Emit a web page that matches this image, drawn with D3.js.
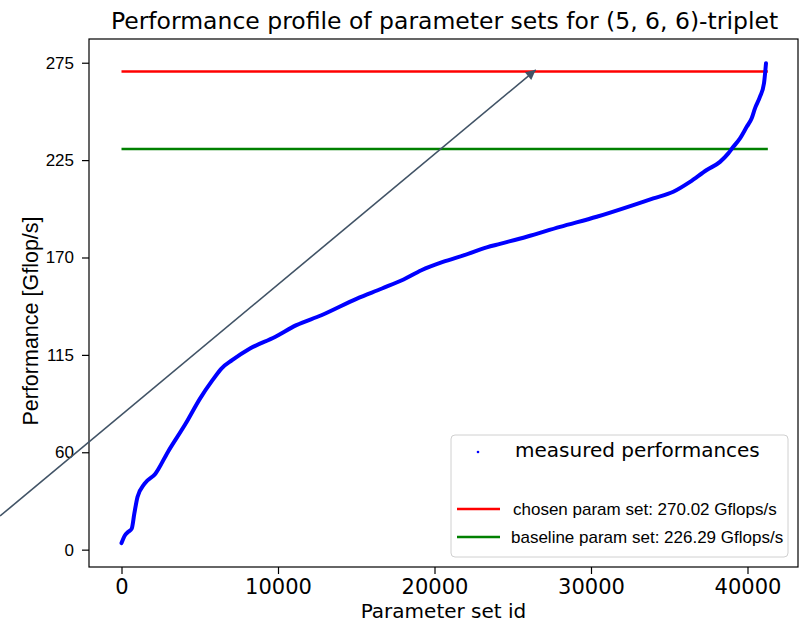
<!DOCTYPE html>
<html>
<head>
<meta charset="utf-8">
<script src="https://cdn.jsdelivr.net/npm/d3@7"></script>
<style>
  body { margin: 0; background: #fff; }
  svg { display: block; }
</style>
</head>
<body>
<div id="chart-container"></div>
<script>
// measured performance profile (sorted parameter sets)
const paramIds = [0, 224, 420, 652, 818, 1022, 1476, 2166, 2965, 4102, 5016, 5815, 6383, 7067, 8211,
  9808, 11176, 12773, 15048, 16645, 18026, 19163, 20537, 21904, 23335, 24185, 25891, 28019,
  30364, 32703, 33981, 35259, 36326, 37393, 38243, 38773, 39093, 39521, 39949, 40268, 40479,
  40799, 41054, 41182];
const perfValues = [3.7, 8.1, 10.0, 11.9, 20.3, 29.7, 37.3, 42.9, 55.2, 71.2, 85.3, 95.7, 102.3, 107.0, 113.6,
  120.1, 126.8, 132.4, 141.8, 147.5, 152.6, 157.8, 162.5, 166.3, 170.7, 172.7, 176.7, 182.3,
  188.0, 194.6, 198.4, 202.1, 207.7, 214.4, 219.0, 223.8, 227.5, 232.3, 238.8, 243.6, 249.2,
  255.8, 263.4, 274.7];

const chosenPerf = 270.02;
const baselinePerf = 226.29;
const refLineIds = [0, 41300];

const xTickValues = [0, 10000, 20000, 30000, 40000];
const yTickValues = [0, 55, 110, 165, 220, 275];
const yTickLabels = ["0", "60", "115", "170", "225", "275"];

// annotation arrow (tail, head) in data units
const arrowFrom = [-7760, 19];
const arrowTo = [26470, 271];

const width = 807, height = 626;
const plot = { left: 89, right: 798, top: 39, bottom: 567 };

const svg = d3.select("#chart-container")
    .append("svg")
    .attr("width", width)
    .attr("height", height);

const x = d3.scaleLinear().domain([-2077, 43227]).range([plot.left, plot.right]);
const y = d3.scaleLinear().domain([-9.8, 288.4]).range([plot.bottom, plot.top]);

// title
svg.append("text")
    .attr("x", (plot.left + plot.right) / 2 + 1)
    .attr("y", 29)
    .attr("text-anchor", "middle")
    .style("font-family", "DejaVu Sans")
    .style("font-size", "23.5px")
    .text("Performance profile of parameter sets for (5, 6, 6)-triplet");

// reference lines
svg.append("line")
    .attr("x1", x(refLineIds[0])).attr("x2", x(refLineIds[1]))
    .attr("y1", y(chosenPerf)).attr("y2", y(chosenPerf))
    .attr("stroke", "#ff0000").attr("stroke-width", 2.6);
svg.append("line")
    .attr("x1", x(refLineIds[0])).attr("x2", x(refLineIds[1]))
    .attr("y1", y(baselinePerf)).attr("y2", y(baselinePerf))
    .attr("stroke", "#008000").attr("stroke-width", 2.6);

// measured curve
const points = paramIds.map((d, i) => [d, perfValues[i]]);
const line = d3.line()
    .x(d => x(d[0]))
    .y(d => y(d[1]))
    .curve(d3.curveMonotoneX);
svg.append("path")
    .datum(points)
    .attr("fill", "none")
    .attr("stroke", "#0000ff")
    .attr("stroke-width", 4)
    .attr("stroke-linejoin", "round")
    .attr("stroke-linecap", "round")
    .attr("d", line);

// frame
svg.append("rect")
    .attr("x", plot.left).attr("y", plot.top)
    .attr("width", plot.right - plot.left)
    .attr("height", plot.bottom - plot.top)
    .attr("fill", "none")
    .attr("stroke", "#000")
    .attr("stroke-width", 1.2);

// x axis
const xAxis = svg.append("g")
    .attr("transform", `translate(0,${plot.bottom})`)
    .call(d3.axisBottom(x).tickValues(xTickValues).tickFormat(d3.format("d")).tickSize(7).tickPadding(5));
xAxis.select(".domain").remove();
xAxis.selectAll("line").attr("stroke-width", 1.2);
xAxis.selectAll("text")
    .style("font-family", "DejaVu Sans")
    .style("font-size", "21px")
    .attr("fill", "#000");

// y axis
const yAxis = svg.append("g")
    .attr("transform", `translate(${plot.left},0)`)
    .call(d3.axisLeft(y).tickValues(yTickValues).tickFormat((d, i) => yTickLabels[i]).tickSize(7).tickPadding(8));
yAxis.select(".domain").remove();
yAxis.selectAll("line").attr("stroke-width", 1.2);
yAxis.selectAll("text")
    .style("font-family", "Liberation Sans")
    .style("font-size", "17px")
    .attr("fill", "#000");

// axis labels
svg.append("text")
    .attr("x", (plot.left + plot.right) / 2)
    .attr("y", 618)
    .attr("text-anchor", "middle")
    .style("font-family", "DejaVu Sans")
    .style("font-size", "20px")
    .text("Parameter set id");

svg.append("text")
    .attr("transform", `translate(38,${(plot.top + plot.bottom) / 2 + 18}) rotate(-90)`)
    .attr("text-anchor", "middle")
    .style("font-family", "Liberation Sans")
    .style("font-size", "21.5px")
    .text("Performance [Gflop/s]");

// arrow annotation
svg.append("defs").append("marker")
    .attr("id", "arrowhead")
    .attr("viewBox", "0 0 10 10")
    .attr("refX", 10).attr("refY", 5)
    .attr("markerWidth", 13).attr("markerHeight", 10)
    .attr("markerUnits", "userSpaceOnUse")
    .attr("orient", "auto")
    .append("path")
    .attr("d", "M0,0 L10,5 L0,10 Z")
    .attr("fill", "#415366");

svg.append("line")
    .attr("x1", x(arrowFrom[0])).attr("y1", y(arrowFrom[1]))
    .attr("x2", x(arrowTo[0])).attr("y2", y(arrowTo[1]))
    .attr("stroke", "#415366")
    .attr("stroke-width", 1.6)
    .attr("marker-end", "url(#arrowhead)");

// legend
const legend = svg.append("g");
legend.append("rect")
    .attr("x", 451).attr("y", 435)
    .attr("width", 337).attr("height", 122)
    .attr("rx", 4)
    .attr("fill", "#fff").attr("fill-opacity", 0.8)
    .attr("stroke", "#d0d0d0");
legend.append("circle")
    .attr("cx", 478).attr("cy", 452).attr("r", 1.3)
    .attr("fill", "#0000ff");
legend.append("text")
    .attr("x", 515).attr("y", 457)
    .style("font-family", "DejaVu Sans")
    .style("font-size", "20px")
    .text("measured performances");

const legendLines = [
    { color: "#ff0000", y: 509, label: `chosen param set: ${chosenPerf.toFixed(2)} Gflops/s`, tx: 513 },
    { color: "#008000", y: 537, label: `baseline param set: ${baselinePerf.toFixed(2)} Gflops/s`, tx: 511 }
];
legendLines.forEach(d => {
    legend.append("line")
        .attr("x1", 457).attr("x2", 500)
        .attr("y1", d.y).attr("y2", d.y)
        .attr("stroke", d.color).attr("stroke-width", 2.6);
    legend.append("text")
        .attr("x", d.tx).attr("y", d.y + 6)
        .style("font-family", "Liberation Sans")
        .style("font-size", "17px")
        .text(d.label);
});
</script>
</body>
</html>
